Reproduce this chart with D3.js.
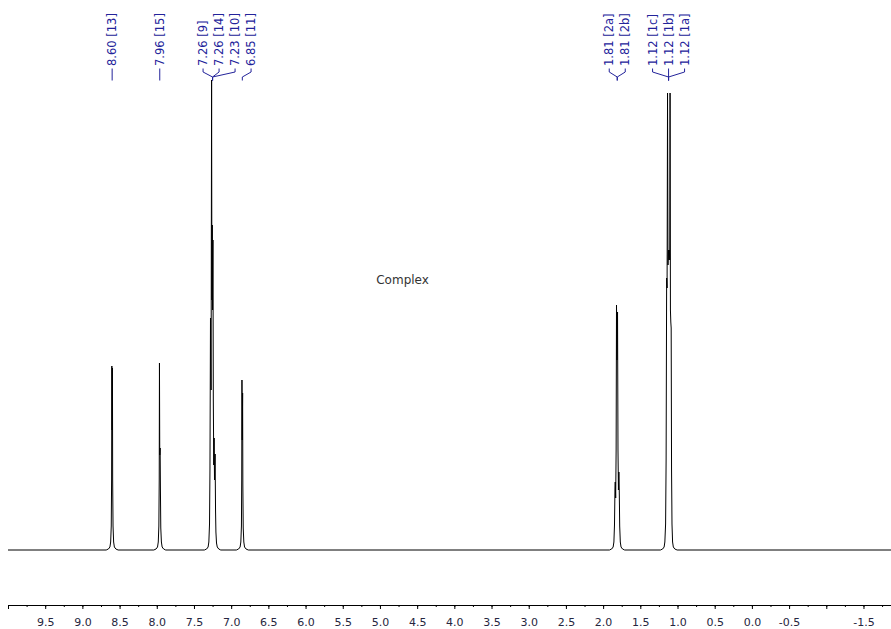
<!DOCTYPE html>
<html>
<head>
<meta charset="utf-8">
<script src="https://cdn.jsdelivr.net/npm/d3@7"></script>
<style>
  html, body { margin: 0; padding: 0; background: #ffffff; }
  svg { display: block; }
</style>
</head>
<body>
<div id="chart"></div>
<script>
// ---------------- DATA ----------------
// chemical shift axis (ppm)
const ppmDomain = [10.0, -1.87];
const tickLabels = ["9.5","9.0","8.5","8.0","7.5","7.0","6.5","6.0","5.5","5.0","4.5","4.0","3.5","3.0","2.5","2.0","1.5","1.0","0.5","0.0","-0.5","-1.5"];

// spectrum trace: [ppm, intensity], per multiplet
const baselinePts = [[10.0, 0], [-1.87, 0]];
const peak860 = [[8.680,0],[8.650,1],[8.630,3],[8.620,8],[8.612,24],[8.607,70],[8.604,184],[8.600,120],[8.596,182],[8.593,70],[8.588,24],[8.580,8],[8.570,3],[8.550,1],[8.520,0]];
const peak796 = [[8.040,0],[8.010,1],[7.990,3],[7.980,8],[7.972,24],[7.967,70],[7.964,187],[7.960,95],[7.955,102],[7.951,60],[7.946,22],[7.938,8],[7.928,3],[7.908,1],[7.880,0]];
const peak726 = [[7.360,0],[7.330,1],[7.310,3],[7.300,8],[7.291,26],[7.285,80],[7.278,232],[7.270,160],[7.263,470],[7.259,250],[7.254,325],[7.250,240],[7.245,310],[7.240,150],[7.234,85],[7.229,112],[7.224,70],[7.216,96],[7.210,40],[7.205,18],[7.197,7],[7.187,3],[7.167,1],[7.140,0]];
const peak685 = [[6.930,0],[6.900,1],[6.880,3],[6.870,8],[6.862,24],[6.858,70],[6.855,170],[6.851,110],[6.846,157],[6.843,65],[6.838,22],[6.830,8],[6.820,3],[6.800,1],[6.770,0]];
const peak181 = [[1.915,0],[1.885,1],[1.865,3],[1.855,8],[1.847,25],[1.841,60],[1.837,68],[1.831,52],[1.825,100],[1.820,245],[1.814,190],[1.806,238],[1.800,100],[1.794,60],[1.788,78],[1.783,60],[1.777,24],[1.769,8],[1.759,3],[1.739,1],[1.710,0]];
const peak112 = [[1.230,0],[1.200,1],[1.180,3],[1.170,8],[1.160,26],[1.153,90],[1.146,272],[1.140,262],[1.134,457],[1.128,285],[1.121,300],[1.115,290],[1.109,300],[1.104,290],[1.100,457],[1.095,240],[1.090,228],[1.085,222],[1.080,80],[1.074,26],[1.066,8],[1.056,3],[1.036,1],[1.005,0]];

// peak labels
const labelShift = [8.60, 7.96, 7.26, 7.26, 7.23, 6.85, 1.81, 1.81, 1.12, 1.12, 1.12];
const labelAtom  = ["13","15","9","14","10","11","2a","2b","1c","1b","1a"];
const labelGroup = [0, 1, 2, 2, 2, 3, 4, 4, 5, 5, 5];

const annotationText = "Complex";
const annotationPpm = 5.05;
const annotationIntensity = 266;

// ---------------- LAYOUT ----------------
const W = 891, H = 629;
const svg = d3.select("#chart").append("svg").attr("width", W).attr("height", H);

const x = d3.scaleLinear().domain(ppmDomain).range([8, 891]);
const y = d3.scaleLinear().domain([0, 500]).range([550, 50]);

// spectrum
const spectrum = [].concat(peak860, peak796, peak726, peak685, peak181, peak112, baselinePts)
  .sort((a, b) => b[0] - a[0]);
const line = d3.line().x(d => x(d[0])).y(d => y(d[1]));
svg.append("path")
  .datum(spectrum)
  .attr("d", line)
  .attr("fill", "none")
  .attr("stroke", "#000")
  .attr("stroke-width", 1);

// axis
const axisY = 605;
const minorTicks = d3.range(0, 48).map(i => +(10 - i * 0.25).toFixed(2)).filter(v => v >= ppmDomain[1]);
const majorTicks = minorTicks.filter(v => Math.abs(v * 2 - Math.round(v * 2)) < 1e-6);
const fmt = v => d3.format(".1f")(v).replace("\u2212", "-");
const gMinor = svg.append("g").attr("transform", `translate(0,${axisY})`)
  .call(d3.axisBottom(x).tickValues(minorTicks).tickSize(2).tickSizeOuter(0).tickFormat(""));
const gMajor = svg.append("g").attr("transform", `translate(0,${axisY})`)
  .call(d3.axisBottom(x).tickValues(majorTicks).tickSize(4).tickSizeOuter(0).tickPadding(9)
    .tickFormat(v => { const s = fmt(v); return tickLabels.includes(s) ? s : ""; }));
[gMinor, gMajor].forEach(g => {
  g.select(".domain").attr("stroke", "#000").attr("stroke-width", 1);
  g.selectAll(".tick line").attr("stroke", "#000");
  g.selectAll("text").attr("font-family", "'DejaVu Sans', Verdana, sans-serif")
    .attr("font-size", 11).attr("fill", "#262640");
});

// labels: cluster layout to avoid overlap
const labelColor = "#23239a";
const gap = 16;
const labels = labelShift.map((s, i) => ({
  text: d3.format(".2f")(s) + " [" + labelAtom[i] + "]",
  ideal: x(s), group: labelGroup[i], shift: s
}));
const groupX = {};
d3.groups(labels, d => d.group).forEach(([g, arr]) => {
  groupX[g] = x(d3.mean(arr, d => d.shift));
});
let clusters = labels.map(d => ({ items: [d], lo: d.ideal, hi: d.ideal }));
const place = c => {
  const center = (c.lo + c.hi) / 2;
  c.start = center - (c.items.length - 1) * gap / 2;
  c.end = c.start + (c.items.length - 1) * gap;
};
clusters.forEach(place);
let merged = true;
while (merged) {
  merged = false;
  for (let i = 0; i < clusters.length - 1; i++) {
    const a = clusters[i], b = clusters[i + 1];
    if (b.start - a.end < gap) {
      const c = { items: a.items.concat(b.items), lo: Math.min(a.lo, b.lo), hi: Math.max(a.hi, b.hi) };
      place(c);
      clusters.splice(i, 2, c);
      merged = true;
      break;
    }
  }
}
clusters.forEach(c => c.items.forEach((d, k) => { d.lx = c.start + k * gap; }));

const gl = svg.append("g");
labels.forEach(d => {
  const gx = groupX[d.group];
  gl.append("path")
    .attr("d", d3.line()([[d.lx, 68.5], [d.lx, 72], [gx, 77], [gx, 80.5]]))
    .attr("fill", "none").attr("stroke", labelColor).attr("stroke-width", 1);
  gl.append("text")
    .attr("transform", `translate(${d.lx},66) rotate(-90)`)
    .attr("text-anchor", "start")
    .attr("dy", "0.35em")
    .attr("font-family", "'DejaVu Sans', Verdana, sans-serif")
    .attr("font-size", 11.5)
    .attr("fill", labelColor)
    .text(d.text);
});

// annotation
svg.append("text")
  .attr("x", x(annotationPpm))
  .attr("y", y(annotationIntensity))
  .attr("font-family", "'DejaVu Sans', Verdana, sans-serif")
  .attr("font-size", 12)
  .attr("fill", "#333")
  .text(annotationText);
</script>
</body>
</html>
